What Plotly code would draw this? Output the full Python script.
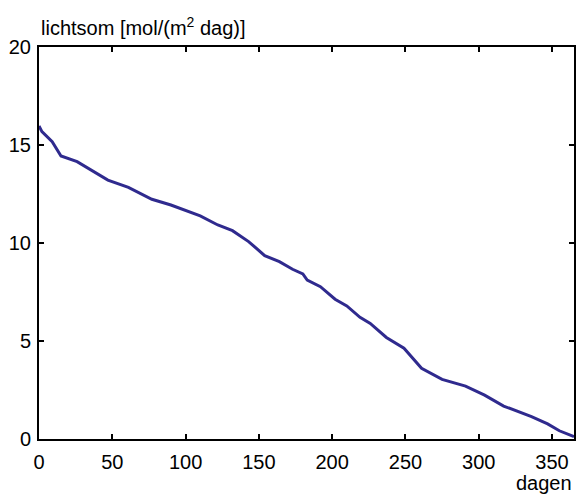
import plotly.graph_objects as go

days = [0, 2, 9, 12, 15, 26, 36, 47, 61, 77, 90, 104, 110, 122, 132, 143, 154, 164, 173,
        180, 183, 192, 202, 210, 219, 226, 237, 249, 261, 275, 291, 304, 317, 336, 347, 355, 365]
lichtsom = [15.97, 15.68, 15.17, 14.83, 14.44, 14.15, 13.72, 13.21, 12.84, 12.23, 11.94, 11.57,
            11.38, 10.92, 10.63, 10.07, 9.35, 9.05, 8.66, 8.42, 8.11, 7.77, 7.13, 6.79, 6.21,
            5.90, 5.18, 4.63, 3.61, 3.04, 2.70, 2.24, 1.68, 1.14, 0.77, 0.42, 0.12]
x_ticks = [0, 50, 100, 150, 200, 250, 300, 350]
y_ticks = [0, 5, 10, 15, 20]

FONT = "Liberation Sans, Arial, Helvetica, sans-serif"

fig = go.Figure(go.Scatter(x=days, y=lichtsom, mode="lines",
                           line=dict(color="#2f2a8e", width=3), showlegend=False))

axis_common = dict(showline=True, linecolor="black", linewidth=2, mirror="ticks",
                   ticks="inside", ticklen=5, tickwidth=1.5, tickcolor="black",
                   showgrid=False, zeroline=False,
                   tickfont=dict(family=FONT, size=20, color="black"))

fig.update_xaxes(range=[0, 365], tickvals=x_ticks, ticktext=[str(v) for v in x_ticks],
                 ticklabelstandoff=4, **axis_common)
fig.update_yaxes(range=[0, 20], tickvals=y_ticks, ticktext=[str(v) for v in y_ticks],
                 ticklabelstandoff=2, **axis_common)

fig.add_annotation(text="lichtsom [mol/(m<sup>2</sup> dag)]", xref="paper", yref="paper",
                   x=0, y=1, xanchor="left", yanchor="bottom", yshift=6, showarrow=False,
                   font=dict(family=FONT, size=20, color="black"))
fig.add_annotation(text="dagen", xref="paper", yref="paper",
                   x=1, y=0, xanchor="right", yanchor="top", yshift=-31, showarrow=False,
                   font=dict(family=FONT, size=20, color="black"))

fig.update_layout(width=579, height=495, margin=dict(l=39, r=3, t=47, b=56),
                  plot_bgcolor="white", paper_bgcolor="white")

fig.write_html("out.html")
